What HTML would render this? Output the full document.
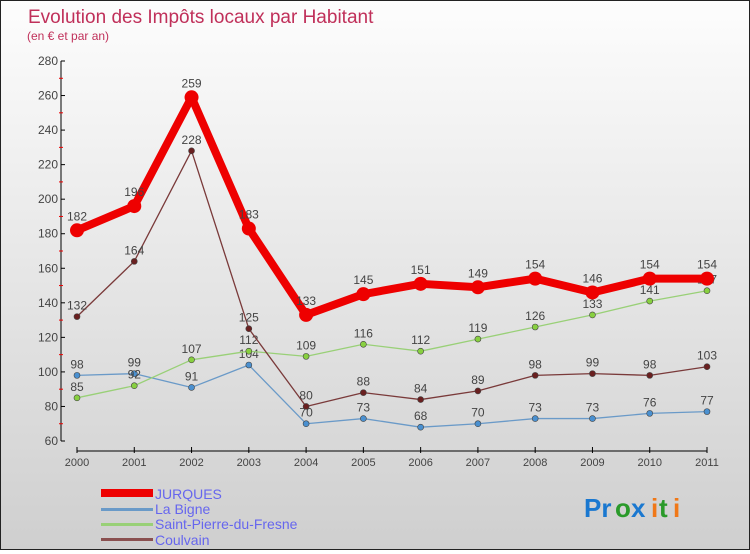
<!DOCTYPE html>
<html><head><meta charset="utf-8"><style>
body{margin:0}
#c{width:748px;height:548px;border:1px solid #222;background:linear-gradient(#fdfdfd,#cfcfcf);position:relative;font-family:"Liberation Sans",sans-serif}
text{font-family:"Liberation Sans",sans-serif}
</style></head><body>
<div id="c">
<svg id="s" width="748" height="548">
<text x="27" y="22" font-size="19" fill="#c0305a">Evolution des Impôts locaux par Habitant</text>
<text x="26" y="39" font-size="12" fill="#c0305a">(en € et par an)</text>
<g id="axes"></g><g id="series"></g>
<g font-size="14" fill="#6666ee">
<rect x="100" y="488" width="52" height="8" fill="#e00"/>
<text x="154" y="498">JURQUES</text>
<rect x="100" y="507" width="52" height="3" fill="#6a9ac8"/>
<text x="154" y="513">La Bigne</text>
<rect x="100" y="522" width="52" height="3" fill="#99d077"/>
<text x="154" y="528">Saint-Pierre-du-Fresne</text>
<rect x="100" y="537" width="52" height="3" fill="#8a5050"/>
<text x="154" y="544">Coulvain</text>
</g>
<g font-size="26" font-weight="bold"><text x="583" y="516" fill="#1a78d0">Pr</text><text x="614" y="516" fill="#2a9a2a">o</text><text x="630" y="516" fill="#1a78d0">x</text><text x="650" y="516" fill="#f07818">i</text><text x="658" y="516" fill="#2a9a2a">t</text><text x="672" y="516" fill="#f07818">i</text></g>
</svg></div>
<script>
const years=[2000,2001,2002,2003,2004,2005,2006,2007,2008,2009,2010,2011];
const yTicks=[60,80,100,120,140,160,180,200,220,240,260,280];
const jurques=[182,196,259,183,133,145,151,149,154,146,154,154];
const laBigne=[98,99,91,104,70,73,68,70,73,73,76,77];
const saintPierre=[85,92,107,112,109,116,112,119,126,133,141,147];
const coulvain=[132,164,228,125,80,88,84,89,98,99,98,103];
const NS="http://www.w3.org/2000/svg";
const xS=i=>76+i*(630/11);
const yS=v=>440-(v-60)*(380/220);
function mk(t,a,p){const e=document.createElementNS(NS,t);for(const k in a)e.setAttribute(k,a[k]);p.appendChild(e);return e;}
const ax=document.getElementById('axes');
let yl=mk('line',{x1:60,y1:60,x2:60,y2:440,stroke:'#000'},ax);


yTicks.forEach(v=>{
 mk('line',{x1:60,x2:64,y1:yS(v),y2:yS(v),stroke:'#000'},ax);
 if(v<280){mk('line',{x1:58,x2:62,y1:yS(v+10),y2:yS(v+10),stroke:'#e00'},ax);}
 const t=mk('text',{x:57,y:yS(v)+4,'font-size':12,fill:'#444','text-anchor':'end'},ax);t.textContent=v;
 
 
});
let xl=mk('line',{x1:76,y1:450,x2:706,y2:450,stroke:'#000'},ax);


years.forEach((y,i)=>{
 mk('line',{x1:xS(i),x2:xS(i),y1:446,y2:452,stroke:'#000'},ax);
 const t=mk('text',{x:xS(i),y:465,'font-size':11,fill:'#444','text-anchor':'middle'},ax);t.textContent=y;
 
 
});
const sg=document.getElementById('series');
function draw(vals,color,w,r,name,dot){
 const g=mk('g',{},sg);
 
 
 const pl=mk('polyline',{points:vals.map((v,i)=>xS(i)+','+yS(v)).join(' '),fill:'none',stroke:color,'stroke-width':w,'stroke-linejoin':'round'},g);
 
 
 vals.forEach((v,i)=>{
  const c=mk('circle',{cx:xS(i),cy:yS(v),r:r,fill:dot,stroke:'#444','stroke-width':r>4?0:0.6},g);
  
  
  const t=mk('text',{x:xS(i),y:yS(v)-(r>4?10:7),'font-size':12,fill:'#444','text-anchor':'middle'},g);t.textContent=v;
  
  
 });
}
draw(laBigne,'#6a9ac8',1.3,3,'la-bigne','#4a90d0');
draw(saintPierre,'#99d077',1.3,3,'saint-pierre','#88d040');
draw(coulvain,'#7a3a3a',1.3,3,'coulvain','#6a2020');
draw(jurques,'#ee0000',8,7,'jurques','#ee0000');
</script>
</body></html>
